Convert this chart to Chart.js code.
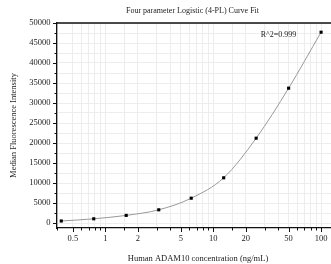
<!DOCTYPE html>
<html>
<head>
<meta charset="utf-8">
<script src="https://cdn.jsdelivr.net/npm/chart.js@4"></script>
<style>
  html, body { margin: 0; padding: 0; overflow: hidden; background: #fff; }
  #wrap { width: 345px; height: 264px; position: relative; }
</style>
</head>
<body>
<div id="wrap"><canvas id="chart"></canvas></div>
<script>
// standard curve: concentration (ng/mL) vs median fluorescence intensity
const concentrations = [0.39, 0.78, 1.56, 3.125, 6.25, 12.5, 25, 50, 100];
const mfiValues = [500, 1050, 1900, 3300, 6200, 11300, 21200, 33700, 47700];
const xTickLabels = [0.5, 1, 2, 5, 10, 20, 50, 100];
const yTickLabels = [0, 5000, 10000, 15000, 20000, 25000, 30000, 35000, 40000, 45000, 50000];
const chartTitle = 'Four parameter Logistic (4-PL) Curve Fit';
const rSquared = 'R^2=0.999';

const serif = '"Liberation Serif", "DejaVu Serif", serif';
const textColor = '#222';

const points = concentrations.map((c, i) => ({ x: c, y: mfiValues[i] }));

function isXLabel(v) {
  return xTickLabels.some(l => Math.abs(l - v) < 1e-6);
}

// labelled y ticks plus one minor tick between each pair
const yTicks = [];
yTickLabels.forEach((v, i) => {
  yTicks.push({ value: v });
  if (i < yTickLabels.length - 1) yTicks.push({ value: (v + yTickLabels[i + 1]) / 2 });
});

// hand-drawn tick marks (major longer than minor), top frame line, title, R^2 note
const decorations = {
  id: 'decorations',
  afterDraw(chart) {
    const ctx = chart.ctx;
    const area = chart.chartArea;
    const xs = chart.scales.x, ys = chart.scales.y;
    ctx.save();
    ctx.strokeStyle = '#111';
    ctx.lineWidth = 1;
    ctx.beginPath();
    xs.ticks.forEach(t => {
      const px = Math.round(xs.getPixelForValue(t.value)) + 0.5;
      if (px < area.left - 0.5 || px > area.right + 0.5) return;
      const len = isXLabel(t.value) ? 4 : 2.5;
      ctx.moveTo(px, area.bottom);
      ctx.lineTo(px, area.bottom + len);
    });
    ys.ticks.forEach(t => {
      const py = Math.round(ys.getPixelForValue(t.value)) + 0.5;
      const len = yTickLabels.includes(t.value) ? 4 : 2.5;
      ctx.moveTo(area.left, py);
      ctx.lineTo(area.left - len, py);
    });
    ctx.stroke();

    ctx.lineWidth = 1.4;
    ctx.beginPath();
    ctx.moveTo(area.left, area.top);
    ctx.lineTo(area.right, area.top);
    ctx.stroke();

    ctx.fillStyle = textColor;
    ctx.textAlign = 'center';
    ctx.textBaseline = 'middle';
    ctx.font = '8px ' + serif;
    ctx.fillText(chartTitle, 192.5, 11);
    ctx.fillText(rSquared, 278.5, 35);
    ctx.restore();
  }
};

new Chart(document.getElementById('chart'), {
  type: 'scatter',
  data: {
    datasets: [{
      data: points,
      showLine: true,
      borderColor: '#999',
      borderWidth: 1,
      cubicInterpolationMode: 'monotone',
      pointStyle: 'rect',
      pointRadius: 2.2,
      pointBackgroundColor: '#000',
      pointBorderColor: '#000',
      pointBorderWidth: 0
    }]
  },
  options: {
    responsive: true,
    maintainAspectRatio: false,
    animation: false,
    layout: { padding: { top: 23, left: 0, right: 0, bottom: 0 } },
    plugins: {
      legend: { display: false },
      tooltip: { enabled: false },
      title: { display: false }
    },
    scales: {
      x: {
        type: 'logarithmic',
        min: 0.356,
        max: 146.6,
        afterFit(scale) { scale.height = 36; },
        border: { display: true, color: '#111', width: 1.3 },
        grid: { color: '#ededed', lineWidth: 1, drawTicks: false },
        ticks: {
          autoSkip: false,
          maxRotation: 0,
          padding: 6,
          color: textColor,
          font: { family: serif, size: 8.5 },
          callback(v) { return isXLabel(v) ? String(v) : ''; }
        },
        title: {
          display: true,
          text: 'Human ADAM10 concentration (ng/mL)',
          color: textColor,
          font: { family: serif, size: 8.5 },
          padding: { top: 0, bottom: 0 }
        }
      },
      y: {
        type: 'linear',
        min: -1250,
        max: 50000,
        afterFit(scale) { scale.width = 57; },
        afterBuildTicks(scale) { scale.ticks = yTicks.map(t => ({ value: t.value })); },
        border: { display: true, color: '#111', width: 1.3 },
        grid: { color: '#ededed', lineWidth: 1, drawTicks: false },
        ticks: {
          autoSkip: false,
          padding: 6.5,
          color: textColor,
          font: { family: serif, size: 8.5 },
          callback(v) { return yTickLabels.includes(v) ? String(v) : ''; }
        },
        title: {
          display: true,
          text: 'Median Fluorescence Intensity',
          color: textColor,
          font: { family: serif, size: 8.5 },
          padding: { top: 9, bottom: 0 }
        }
      }
    }
  },
  plugins: [decorations]
});
</script>
</body>
</html>
